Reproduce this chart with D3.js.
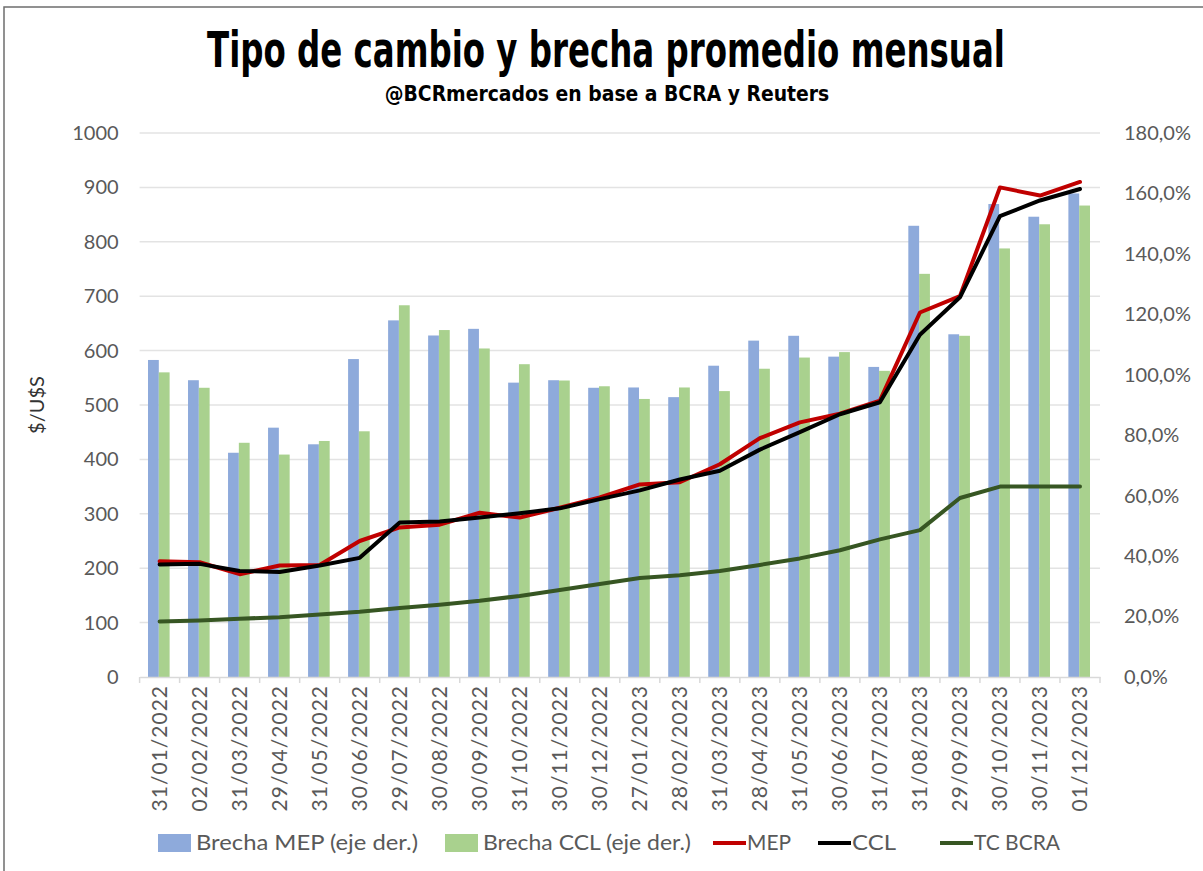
<!DOCTYPE html>
<html>
<head>
<meta charset="utf-8">
<script src="https://cdn.jsdelivr.net/npm/d3@7"></script>
<style>
  body { margin: 0; background: #fff; }
  svg { display: block; }
</style>
</head>
<body>
<div id="chart"></div>
<script>
const dates = [
  '31/01/2022', '02/02/2022', '31/03/2022', '29/04/2022', '31/05/2022', '30/06/2022',
  '29/07/2022', '30/08/2022', '30/09/2022', '31/10/2022', '30/11/2022', '30/12/2022',
  '27/01/2023', '28/02/2023', '31/03/2023', '28/04/2023', '31/05/2023', '30/06/2023',
  '31/07/2023', '31/08/2023', '29/09/2023', '30/10/2023', '30/11/2023', '01/12/2023'
];

// brechas en % (eje derecho)
const brechaMep = [104.9, 98.2, 74.2, 82.5, 77.0, 105.2, 118.0, 113.0, 115.2, 97.4, 98.2, 95.7,
  95.8, 92.6, 103.0, 111.3, 112.9, 106.0, 102.6, 149.3, 113.4, 156.5, 152.3, 160.0];
const brechaCcl = [100.8, 95.7, 77.5, 73.6, 78.1, 81.3, 123.0, 114.8, 108.7, 103.5, 98.1, 96.2,
  92.0, 95.8, 94.6, 102.0, 105.7, 107.5, 101.3, 133.4, 112.9, 141.8, 149.8, 156.0];

// tipos de cambio en $/U$S (eje izquierdo)
const mep = [213, 211, 189, 205, 206, 250, 275, 280, 302, 293, 311, 330,
  354, 358, 391, 439, 468, 484, 508, 670, 700, 900, 885, 910];
const ccl = [207, 208, 195, 193, 205, 219, 284, 286, 293, 301, 310, 327,
  343, 363, 379, 418, 450, 483, 505, 629, 698, 847, 876, 897];
const tcBcra = [102, 104, 107, 110, 115, 120, 127, 133, 140, 149, 160, 171,
  182, 187, 195, 206, 218, 233, 253, 270, 329, 350, 350, 350];

const leftTicks = [0, 100, 200, 300, 400, 500, 600, 700, 800, 900, 1000];
const rightTicks = [0, 0.2, 0.4, 0.6, 0.8, 1.0, 1.2, 1.4, 1.6, 1.8];

const width = 1203;
const height = 871;
const plot = { left: 139.6, right: 1100, top: 133, bottom: 677 };

const font = 'Lato, "Open Sans", sans-serif';
const grey = '#595959';

const es = d3.formatLocale({ decimal: ',', thousands: '.', grouping: [3], currency: ['$', ''] });
const pct = es.format('.1%');

const svg = d3
  .select('#chart')
  .append('svg')
  .attr('width', width)
  .attr('height', height);

// chart frame
svg
  .append('rect')
  .attr('x', 4)
  .attr('y', 7)
  .attr('width', width + 20)
  .attr('height', height + 20)
  .attr('fill', '#fff')
  .attr('stroke', '#6e6e6e')
  .attr('stroke-width', 1.5);

const x = d3
  .scaleBand()
  .domain(dates)
  .range([plot.left, plot.right]);

const xSub = d3
  .scaleBand()
  .domain(['mep', 'ccl'])
  .range([x.bandwidth() * 0.21, x.bandwidth() * 0.75]);

const yLeft = d3.scaleLinear().domain([0, 1000]).range([plot.bottom, plot.top]);
const yRight = d3.scaleLinear().domain([0, 1.8]).range([plot.bottom, plot.top]);

// gridlines
svg
  .append('g')
  .selectAll('line')
  .data(leftTicks.slice(1))
  .join('line')
  .attr('x1', plot.left)
  .attr('x2', plot.right)
  .attr('y1', d => yLeft(d))
  .attr('y2', d => yLeft(d))
  .attr('stroke', '#e3e3e3')
  .attr('stroke-width', 1.5);

// left axis
svg
  .append('g')
  .attr('transform', `translate(${plot.left},0)`)
  .call(d3.axisLeft(yLeft).tickValues(leftTicks).tickFormat(d => d).tickSize(0).tickPadding(21))
  .call(g => g.select('.domain').remove())
  .call(g => g.selectAll('.tick text').attr('fill', grey).style('font', `20px ${font}`));

// right axis
svg
  .append('g')
  .attr('transform', `translate(${plot.right},0)`)
  .call(d3.axisRight(yRight).tickValues(rightTicks).tickFormat(pct).tickSize(0).tickPadding(24))
  .call(g => g.select('.domain').remove())
  .call(g => g.selectAll('.tick text').attr('fill', grey).style('font', `20px ${font}`));

// bars
const bars = dates.map((d, i) => ({ date: d, mep: brechaMep[i] / 100, ccl: brechaCcl[i] / 100 }));
const barColor = { mep: '#8eaadb', ccl: '#a9d18e' };

svg
  .append('g')
  .selectAll('g')
  .data(bars)
  .join('g')
  .attr('transform', d => `translate(${x(d.date)},0)`)
  .selectAll('rect')
  .data(d => ['mep', 'ccl'].map(k => ({ key: k, value: d[k] })))
  .join('rect')
  .attr('x', d => xSub(d.key))
  .attr('width', xSub.bandwidth())
  .attr('y', d => yRight(d.value))
  .attr('height', d => yRight(0) - yRight(d.value))
  .attr('fill', d => barColor[d.key]);

// x axis
svg
  .append('g')
  .attr('transform', `translate(0,${plot.bottom})`)
  .call(d3.axisBottom(x).tickSize(0).tickPadding(8))
  .call(g => g.select('.domain').attr('stroke', '#d9d9d9').attr('stroke-width', 1.5))
  .call(g =>
    g
      .selectAll('.tick text')
      .attr('fill', grey)
      .style('font', `21px ${font}`)
      .attr('letter-spacing', 1)
      .attr('transform', 'rotate(-90)')
      .attr('text-anchor', 'end')
      .attr('x', -8)
      .attr('y', 0)
      .attr('dy', '0.35em')
  );

svg
  .append('g')
  .selectAll('line')
  .data(dates.concat(['end']))
  .join('line')
  .attr('x1', (d, i) => plot.left + i * x.step())
  .attr('x2', (d, i) => plot.left + i * x.step())
  .attr('y1', plot.bottom)
  .attr('y2', plot.bottom + 6)
  .attr('stroke', '#d9d9d9')
  .attr('stroke-width', 1.5);

// lines
const lineSeries = [
  { name: 'MEP', values: mep, color: '#c00000' },
  { name: 'CCL', values: ccl, color: '#000000' },
  { name: 'TC BCRA', values: tcBcra, color: '#375623' }
];

const line = d3
  .line()
  .x((d, i) => x(dates[i]) + x.bandwidth() / 2)
  .y(d => yLeft(d));

svg
  .append('g')
  .selectAll('path')
  .data(lineSeries)
  .join('path')
  .attr('d', d => line(d.values))
  .attr('fill', 'none')
  .attr('stroke', d => d.color)
  .attr('stroke-width', 4)
  .attr('stroke-linejoin', 'round')
  .attr('stroke-linecap', 'round');

// y axis title
svg
  .append('text')
  .attr('transform', `translate(44,${(plot.top + plot.bottom) / 2}) rotate(-90)`)
  .attr('text-anchor', 'middle')
  .attr('fill', '#333')
  .style('font', `20px ${font}`)
  .text('$/U$S');

// titles: squeezed horizontally to the reference width
const squeezed = (cx, cy, size, target, str) => {
  const t = svg
    .append('text')
    .attr('text-anchor', 'middle')
    .attr('fill', '#000')
    .style('font', `bold ${size}px "DejaVu Sans Condensed", "DejaVu Sans", sans-serif`)
    .text(str);
  const len = t.node().getComputedTextLength();
  t.attr('transform', `translate(${cx},${cy}) scale(${target / len},1)`);
};

squeezed(606, 67, 50, 798, 'Tipo de cambio y brecha promedio mensual');
squeezed(607, 101, 22, 445, '@BCRmercados en base a BCRA y Reuters');

// legend
const legendItems = [
  { label: 'Brecha MEP (eje der.)', color: '#8eaadb', type: 'rect', x: 158, len: 222 },
  { label: 'Brecha CCL (eje der.)', color: '#a9d18e', type: 'rect', x: 445, len: 208 },
  { label: 'MEP', color: '#c00000', type: 'line', x: 713, len: 44 },
  { label: 'CCL', color: '#000000', type: 'line', x: 818, len: 44 },
  { label: 'TC BCRA', color: '#375623', type: 'line', x: 940, len: 86 }
];

const legend = svg
  .append('g')
  .selectAll('g')
  .data(legendItems)
  .join('g')
  .attr('transform', d => `translate(${d.x},843)`);

legend
  .filter(d => d.type === 'rect')
  .append('rect')
  .attr('x', 0)
  .attr('y', -9)
  .attr('width', 33)
  .attr('height', 18)
  .attr('fill', d => d.color);

legend
  .filter(d => d.type === 'line')
  .append('line')
  .attr('x1', 0)
  .attr('x2', 33)
  .attr('stroke', d => d.color)
  .attr('stroke-width', 4);

legend
  .append('text')
  .attr('x', d => (d.type === 'rect' ? 38 : 34))
  .attr('dy', '0.35em')
  .attr('textLength', d => d.len)
  .attr('lengthAdjust', 'spacingAndGlyphs')
  .attr('fill', grey)
  .style('font', `21px ${font}`)
  .text(d => d.label);
</script>
</body>
</html>
